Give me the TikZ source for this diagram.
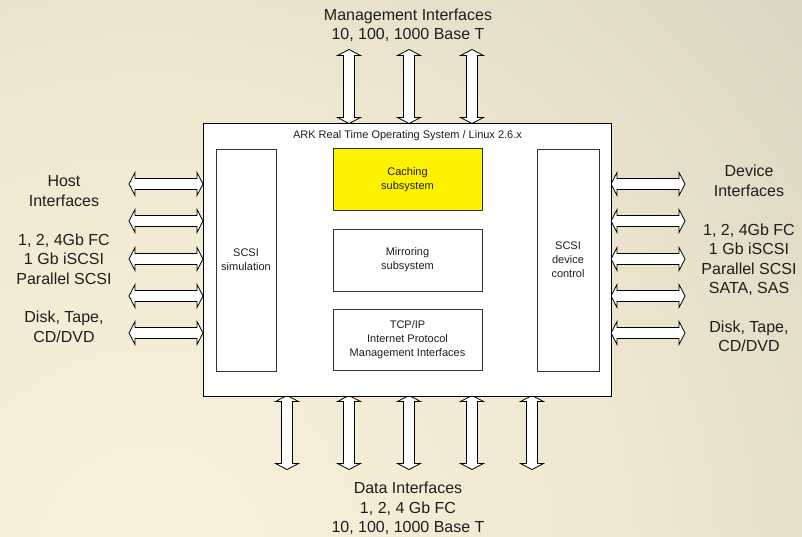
\documentclass[tikz,border=0pt]{standalone}
\usepackage{fontspec}
\setmainfont{Liberation Sans}
\definecolor{bgA}{HTML}{F9F1DB}
\definecolor{bgB}{HTML}{EFE7CF}
\definecolor{bgC}{HTML}{CFC9B8}
\definecolor{bgD}{HTML}{A8A898}
\definecolor{txtcol}{HTML}{1E1E1E}
\definecolor{boxline}{HTML}{333333}
\pgfdeclareradialshading{bgshade}{\pgfpoint{0bp}{0bp}}{color(0bp)=(bgA); color(12bp)=(bgB); color(28bp)=(bgC); color(42bp)=(bgD); color(50bp)=(bgD)}
\tikzset{
  bigtxt/.style={font=\fontsize{16}{19.4}\selectfont, text=txtcol, anchor=base, inner sep=0pt},
  smalltxt/.style={font=\fontsize{11}{14}\selectfont, text=txtcol},
  subbox/.style={draw=boxline, line width=0.8pt, fill=white, smalltxt, align=center, inner sep=0pt},
  arrsty/.style={draw=black, fill=white, line width=0.8pt, line join=miter},
  pics/dblarr/.style={code={
    \draw[arrsty] (-37,0) -- (-31,-11.5) -- (-31,-5.5) -- (31,-5.5) -- (31,-11.5) -- (37,0)
      -- (31,11.5) -- (31,5.5) -- (-31,5.5) -- (-31,11.5) -- cycle;}}
}
\begin{document}
\begin{tikzpicture}[x=1pt,y=-1pt]
\useasboundingbox (0,0) rectangle (802,537);
% background
\begin{scope}
  \clip (0,0) rectangle (802,537);
  \shade[shading=bgshade] (150,560) circle (1000pt);
\end{scope}

% arrows
\foreach \yy/\n in {184/1,221/2,259/3,296/4,333/5} {
  \pic (la\n) at (166,\yy) {dblarr};
  \pic (ra\n) at (648,\yy) {dblarr};
}
\foreach \xx/\n in {349/1,409/2,472/3} {
  \pic[rotate=90] (ta\n) at (\xx,86.5) {dblarr};
}
\foreach \xx/\n in {287/1,349/2,409/3,472/4,532/5} {
  \pic[rotate=90] (ba\n) at (\xx,432.5) {dblarr};
}

% main box
\node[draw=black, line width=0.9pt, fill=white, minimum width=408pt, minimum height=273pt, inner sep=0pt] (main) at (407,259.5) {};
\node[smalltxt, anchor=base, inner sep=0pt] (title) at (407.5,139) {ARK Real Time Operating System / Linux 2.6.x};

\node[subbox, minimum width=60pt, minimum height=222pt] (sim) at (246,260) {SCSI\\simulation};
\node[subbox, minimum width=149pt, minimum height=62pt, fill=yellow] (cache) at (407.5,179.5) {Caching\\subsystem};
\node[subbox, minimum width=149pt, minimum height=62pt] (mirror) at (407.5,260) {Mirroring\\subsystem};
\node[subbox, minimum width=149pt, minimum height=61pt] (tcp) at (407.5,340) {TCP/IP\\Internet Protocol\\Management Interfaces};
\node[subbox, minimum width=62pt, minimum height=222pt] (dev) at (568,260) {SCSI\\device\\control};

% outside texts
\node[bigtxt] (top1) at (408,20.2) {Management Interfaces};
\node[bigtxt] (top2) at (408,39.6) {10, 100, 1000 Base T};

\node[bigtxt] (l1) at (64,187) {Host};
\node[bigtxt] (l2) at (64,206.4) {Interfaces};
\node[bigtxt] (l3) at (64,245.2) {1, 2, 4Gb FC};
\node[bigtxt] (l4) at (64,264.6) {1 Gb iSCSI};
\node[bigtxt] (l5) at (64,284) {Parallel SCSI};
\node[bigtxt] (l6) at (64,322.8) {Disk, Tape,};
\node[bigtxt] (l7) at (64,342.2) {CD/DVD};

\node[bigtxt] (r1) at (749,177) {Device};
\node[bigtxt] (r2) at (749,196.4) {Interfaces};
\node[bigtxt] (r3) at (749,235.2) {1, 2, 4Gb FC};
\node[bigtxt] (r4) at (749,254.6) {1 Gb iSCSI};
\node[bigtxt] (r5) at (749,274) {Parallel SCSI};
\node[bigtxt] (r6) at (749,293.4) {SATA, SAS};
\node[bigtxt] (r7) at (749,332.2) {Disk, Tape,};
\node[bigtxt] (r8) at (749,351.6) {CD/DVD};

\node[bigtxt] (b1) at (408,493.5) {Data Interfaces};
\node[bigtxt] (b2) at (408,513) {1, 2, 4 Gb FC};
\node[bigtxt] (b3) at (408,532.4) {10, 100, 1000 Base T};
\end{tikzpicture}
\end{document}
